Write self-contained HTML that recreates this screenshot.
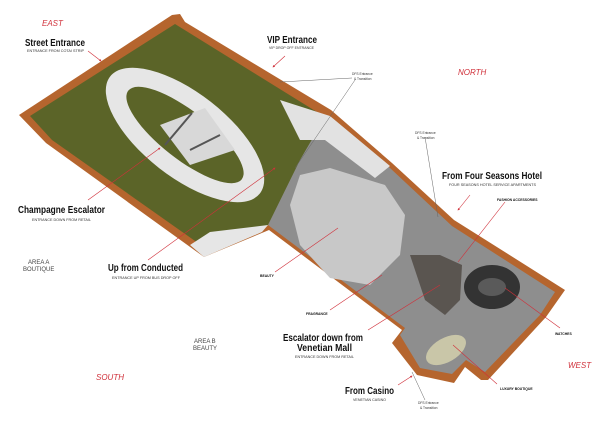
<!DOCTYPE html>
<html><head><style>
body{margin:0;background:#fff;}
svg{display:block}
.t{font-family:"Liberation Sans",sans-serif;font-weight:bold;font-size:10.5px;fill:#111;}
.s{font-family:"Liberation Sans",sans-serif;font-size:3.3px;fill:#333;}
.c{font-family:"Liberation Sans",sans-serif;font-style:italic;font-size:8px;fill:#d0303a;}
.a{font-family:"Liberation Sans",sans-serif;font-size:6px;fill:#444;}
.l{font-family:"Liberation Sans",sans-serif;font-weight:bold;font-size:3.4px;fill:#111;}
.ln{stroke:#d0303a;stroke-width:0.6;fill:none}
.gl{stroke:#666;stroke-width:0.5;fill:none}
</style></head><body>
<svg width="600" height="425" viewBox="0 0 600 425" xmlns="http://www.w3.org/2000/svg">
<defs><marker id="ar" markerWidth="4" markerHeight="4" refX="3" refY="2" orient="auto"><path d="M0,0 L4,2 L0,4z" fill="#d0303a"/></marker></defs>
<rect width="600" height="425" fill="#fff"/>
<!-- outer brick -->
<polygon fill="#b5652e" points="19,115 172,15 180,14 185,22 331,110 392,163 454,220 565,290 546,317 488,380 481,380 465,367 454,383 417,375 392,343 402,330 269,230 204,257 46,143"/>
<!-- green -->
<polygon fill="#5b6428" points="30,116 175,24 325,117 268,225 205,248 52,140"/>
<!-- grey wing -->
<polygon fill="#8e8e8e" points="268,225 300,160 325,117 390,168 452,226 555,292 540,315 485,372 466,360 452,374 420,368 400,335 405,328"/>
<polygon fill="#e2e2e2" points="280,100 330,116 390,166 375,178 325,140 300,140"/>
<polygon fill="#c8c8c8" points="300,175 330,168 385,185 405,215 400,255 370,285 330,278 300,245 290,205"/>
<polygon fill="#5a5550" points="410,255 440,255 462,265 460,300 445,315 425,300"/>
<ellipse cx="492" cy="287" rx="28" ry="22" fill="#333"/>
<ellipse cx="492" cy="287" rx="14" ry="9" fill="#5a5a5a"/>
<ellipse cx="446" cy="350" rx="22" ry="12" transform="rotate(-30 446 350)" fill="#c9c6a8"/>
<polygon fill="#e6e6e6" points="190,245 210,232 268,225 262,232 204,257"/>
<!-- oval ring -->
<ellipse cx="185" cy="135" rx="95" ry="42" transform="rotate(38 185 135)" fill="#e6e6e6"/>
<ellipse cx="185" cy="135" rx="72" ry="24" transform="rotate(38 185 135)" fill="#5b6428"/>
<polygon fill="#d8d8d8" points="160,125 205,108 235,150 190,165"/>
<line x1="165" y1="145" x2="192" y2="113" stroke="#555" stroke-width="2"/>
<line x1="190" y1="150" x2="220" y2="135" stroke="#555" stroke-width="2"/>
<!-- arrows/leaders -->
<line class="ln" x1="88" y1="51" x2="101" y2="61" marker-end="url(#ar)"/>
<line class="ln" x1="285" y1="56" x2="273" y2="67" marker-end="url(#ar)"/>
<line class="ln" x1="470" y1="195" x2="458" y2="210" marker-end="url(#ar)"/>
<line class="ln" x1="398" y1="385" x2="412" y2="376" marker-end="url(#ar)"/>
<line class="ln" x1="88" y1="200" x2="160" y2="148" marker-end="url(#ar)"/>
<line class="ln" x1="148" y1="260" x2="275" y2="168" marker-end="url(#ar)"/>
<line class="ln" x1="275" y1="272" x2="338" y2="228"/>
<line class="ln" x1="330" y1="310" x2="382" y2="275"/>
<line class="ln" x1="368" y1="330" x2="440" y2="285"/>
<line class="ln" x1="505" y1="202" x2="458" y2="262"/>
<line class="ln" x1="560" y1="328" x2="505" y2="288"/>
<line class="ln" x1="497" y1="384" x2="453" y2="345"/>
<line class="gl" x1="352" y1="78" x2="280" y2="82"/>
<line class="gl" x1="355" y1="80" x2="295" y2="168"/>
<line class="gl" x1="425" y1="137" x2="438" y2="217"/>
<line class="gl" x1="425" y1="400" x2="412" y2="372"/>
<!-- labels -->
<text class="c" x="42" y="26">EAST</text>
<text class="c" x="458" y="75">NORTH</text>
<text class="c" x="96" y="380">SOUTH</text>
<text class="c" x="568" y="368">WEST</text>
<text class="t" x="25" y="46" textLength="60" lengthAdjust="spacingAndGlyphs">Street Entrance</text>
<text class="s" x="27" y="52" textLength="57" lengthAdjust="spacingAndGlyphs">ENTRANCE FROM COTAI STRIP</text>
<text class="t" x="267" y="43" textLength="50" lengthAdjust="spacingAndGlyphs">VIP Entrance</text>
<text class="s" x="269" y="49" textLength="45" lengthAdjust="spacingAndGlyphs">VIP DROP OFF ENTRANCE</text>
<text class="t" x="18" y="213" textLength="87" lengthAdjust="spacingAndGlyphs">Champagne Escalator</text>
<text class="s" x="32" y="221" textLength="59" lengthAdjust="spacingAndGlyphs">ENTRANCE DOWN FROM RETAIL</text>
<text class="t" x="108" y="271" textLength="75" lengthAdjust="spacingAndGlyphs">Up from Conducted</text>
<text class="s" x="112" y="279" textLength="68" lengthAdjust="spacingAndGlyphs">ENTRANCE UP FROM BUS DROP OFF</text>
<text class="t" x="442" y="179" textLength="100" lengthAdjust="spacingAndGlyphs">From Four Seasons Hotel</text>
<text class="s" x="449" y="186" textLength="87" lengthAdjust="spacingAndGlyphs">FOUR SEASONS HOTEL SERVICE APARTMENTS</text>
<text class="t" x="283" y="341" textLength="80" lengthAdjust="spacingAndGlyphs">Escalator down from</text>
<text class="t" x="297" y="351" textLength="55" lengthAdjust="spacingAndGlyphs">Venetian Mall</text>
<text class="s" x="295" y="358" textLength="59" lengthAdjust="spacingAndGlyphs">ENTRANCE DOWN FROM RETAIL</text>
<text class="t" x="345" y="394" textLength="49" lengthAdjust="spacingAndGlyphs">From Casino</text>
<text class="s" x="353" y="401" textLength="33" lengthAdjust="spacingAndGlyphs">VENETIAN CASINO</text>
<text class="a" x="28" y="264">AREA A</text><text class="a" x="23" y="271">BOUTIQUE</text>
<text class="a" x="194" y="343">AREA B</text><text class="a" x="193" y="350">BEAUTY</text>
<text class="l" x="497" y="201">FASHION  ACCESSORIES</text>
<text class="l" x="260" y="277">BEAUTY</text>
<text class="l" x="306" y="315">FRAGRANCE</text>
<text class="l" x="555" y="335">WATCHES</text>
<text class="l" x="500" y="390">LUXURY BOUTIQUE</text>
<text class="s" x="352" y="75">DFS Entrance</text><text class="s" x="354" y="80">&amp; Transition</text>
<text class="s" x="415" y="134">DFS Entrance</text><text class="s" x="417" y="139">&amp; Transition</text>
<text class="s" x="418" y="404">DFS Entrance</text><text class="s" x="420" y="409">&amp; Transition</text>
</svg>
</body></html>
